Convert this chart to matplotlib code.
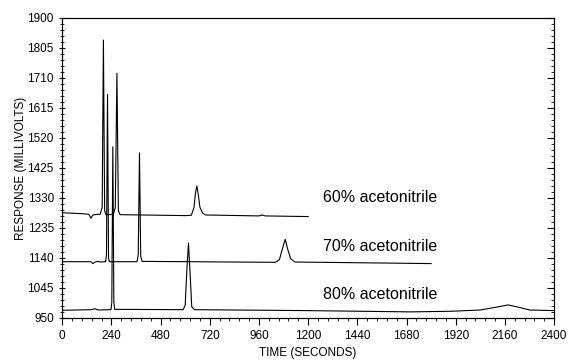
import matplotlib
matplotlib.use("Agg")
import matplotlib.pyplot as plt
from matplotlib.ticker import MultipleLocator

plt.rcParams['font.family'] = ['Liberation Sans', 'DejaVu Sans']

t60 = [0, 100, 130, 140, 150, 170, 185, 195, 201, 207, 213, 230, 250, 259, 267, 274, 282,
       600, 630, 643, 650, 657, 664, 672, 685, 700, 960, 975, 990, 1200]
r60 = [1283, 1280, 1278, 1266, 1276, 1278, 1278, 1300, 1830, 1290, 1277, 1277, 1279, 1300, 1725, 1290, 1277,
       1274, 1275, 1300, 1345, 1368, 1340, 1300, 1282, 1276, 1273, 1276, 1273, 1271]

t70 = [0, 140, 150, 160, 175, 185, 212, 216, 221, 226, 230, 365, 371, 377, 383, 390,
       1040, 1060, 1075, 1088, 1100, 1115, 1135, 1800]
r70 = [1128, 1128, 1122, 1127, 1129, 1127, 1128, 1150, 1658, 1140, 1128, 1128, 1150, 1473, 1145, 1129,
       1126, 1135, 1170, 1199, 1168, 1137, 1127, 1122]

t80 = [0, 140, 160, 175, 238, 242, 247, 252, 256, 590, 600, 608, 616, 624, 632, 645,
       1200, 1450, 1700, 1900, 2040, 2110, 2175, 2225, 2280, 2400]
r80 = [974, 976, 979, 975, 976, 1000, 1492, 1000, 977, 976, 990, 1100, 1187, 1090, 985, 976,
       973, 971, 969, 971, 975, 983, 991, 984, 975, 973]

rotulos = ['60% acetonitrile', '70% acetonitrile', '80% acetonitrile']
pos_rotulos = [1330, 1176, 1023]

fig = plt.figure(figsize=(5.76, 3.6), dpi=100)
ax = fig.add_axes([0.108, 0.117, 0.854, 0.833])

for t, r in [(t60, r60), (t70, r70), (t80, r80)]:
    ax.plot(t, r, color='black', lw=0.8)

for texto, y in zip(rotulos, pos_rotulos):
    ax.text(1273, y, texto, fontsize=11.5, va='center', ha='left')

ax.set_xlim(0, 2400)
ax.set_ylim(950, 1900)
ax.xaxis.set_major_locator(MultipleLocator(240))
ax.xaxis.set_minor_locator(MultipleLocator(48))
ax.yaxis.set_major_locator(MultipleLocator(95))
ax.yaxis.set_minor_locator(MultipleLocator(19))
ax.tick_params(axis='both', which='major', labelsize=8.5, length=5, width=0.8)
ax.tick_params(axis='both', which='minor', length=2.5, width=0.6)
ax.tick_params(axis='y', which='both', direction='inout')
ax.tick_params(axis='x', which='both', direction='out')
for s in ax.spines.values():
    s.set_linewidth(0.8)

# marcas do lado direito
ax2 = ax.twinx()
ax2.set_ylim(950, 1900)
ax2.yaxis.set_major_locator(MultipleLocator(95))
ax2.yaxis.set_minor_locator(MultipleLocator(19))
ax2.tick_params(axis='y', which='both', direction='in', labelright=False)
ax2.tick_params(axis='y', which='major', length=5, width=0.8)
ax2.tick_params(axis='y', which='minor', length=2.5, width=0.6)

ax.set_xlabel('TIME (SECONDS)', fontsize=8.5, labelpad=4)
ax.set_ylabel('RESPONSE (MILLIVOLTS)', fontsize=8.5, labelpad=0)

fig.savefig('out.png', dpi=100)
